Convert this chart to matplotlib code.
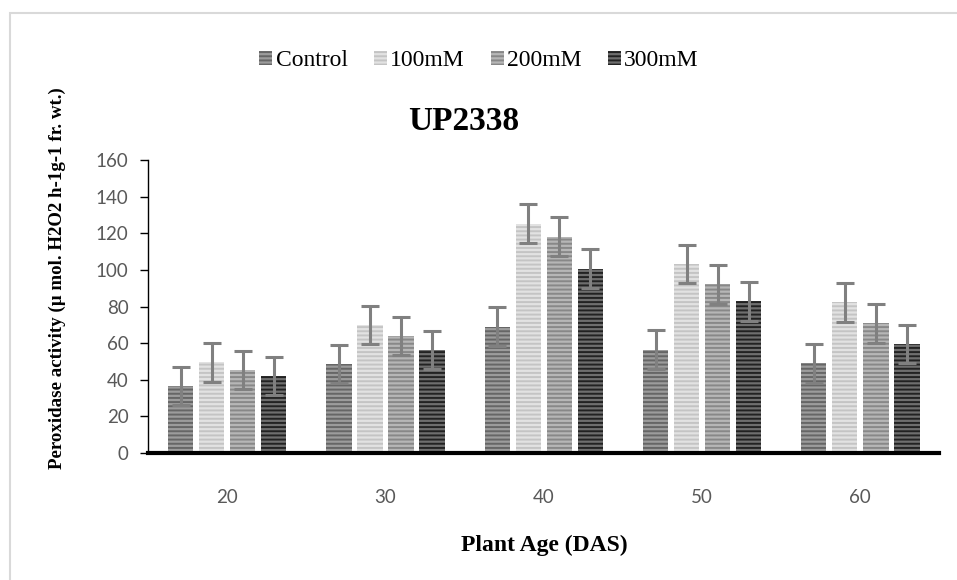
import matplotlib.pyplot as plt
import matplotlib.patches as mpatches
import numpy as np

plt.rcParams['hatch.linewidth'] = 1.4

ages = ["20", "30", "40", "50", "60"]
series = ["Control", "100mM", "200mM", "300mM"]
control = [36.5, 48.5, 69, 56.5, 49]
mm100 = [49.5, 69.8, 125.3, 103.2, 82.3]
mm200 = [45.2, 64, 118.2, 92.1, 70.8]
mm300 = [42, 56.2, 100.7, 82.8, 59.5]
errors = [10.5, 10.5, 10.5, 10.5, 10.5]

# base fill and stripe colour for each treatment
fills = ["#9c9c9c", "#e2e2e2", "#b6b6b6", "#6e6e6e"]
stripes = ["#666666", "#c4c4c4", "#888888", "#222222"]

fig = plt.figure(figsize=(9.57, 5.8), dpi=100)
ax = fig.add_axes([0.1547, 0.219, 0.827, 0.505])

# light frame around the whole chart
fig.patches.append(mpatches.Rectangle((10 / 957, -0.1), 1.2, 1.1 - 13 / 580,
                                      transform=fig.transFigure, fill=False,
                                      edgecolor="#d9d9d9", lw=1.5))

x = np.arange(len(ages))
slot = 0.196
width = 0.16
for i, vals in enumerate([control, mm100, mm200, mm300]):
    pos = x + (i - 1.5) * slot
    ax.bar(pos, vals, width, facecolor=fills[i], edgecolor=stripes[i],
           hatch="----", linewidth=0, label=series[i])
    ax.errorbar(pos, vals, yerr=errors, fmt="none", ecolor="#808080",
                elinewidth=2.2, capsize=6.5, capthick=2.2)

ax.set_xlim(-0.5, 4.5)
ax.set_ylim(0, 160)
ax.set_yticks(range(0, 161, 20))
ax.set_xticks(x, ages)
ax.tick_params(axis="y", direction="out", length=6, width=1, colors="black",
               labelcolor="#595959", labelsize=13.5, pad=8)
ax.tick_params(axis="x", length=0, labelcolor="#595959", labelsize=13.5, pad=26)
for lab in ax.get_xticklabels() + ax.get_yticklabels():
    lab.set_family("Lato")

ax.spines["top"].set_visible(False)
ax.spines["right"].set_visible(False)
ax.spines["left"].set_linewidth(1)
ax.spines["bottom"].set_linewidth(3)

fig.text(0.485, 1 - 122 / 580, "UP2338", ha="center", va="center",
         family="Liberation Serif", weight="bold", fontsize=24)
fig.text(544 / 957, 1 - 545 / 580, "Plant Age (DAS)", ha="center", va="center",
         family="Liberation Serif", weight="bold", fontsize=17)
fig.text(0.06, 1 - 278 / 580, "Peroxidase activity (\u00b5 mol. H2O2 h-1g-1 fr. wt.)",
         rotation=90, ha="center", va="center",
         family="Liberation Serif", weight="bold", fontsize=13.6)

ax.legend(loc="center", bbox_to_anchor=(479 / 957, 1 - 61 / 580), bbox_transform=fig.transFigure,
          ncol=4, frameon=False, prop={"family": "Liberation Serif", "size": 17},
          handlelength=0.55, handleheight=0.55, handletextpad=0.15, columnspacing=1.1)

fig.savefig("out.png", dpi=100)
